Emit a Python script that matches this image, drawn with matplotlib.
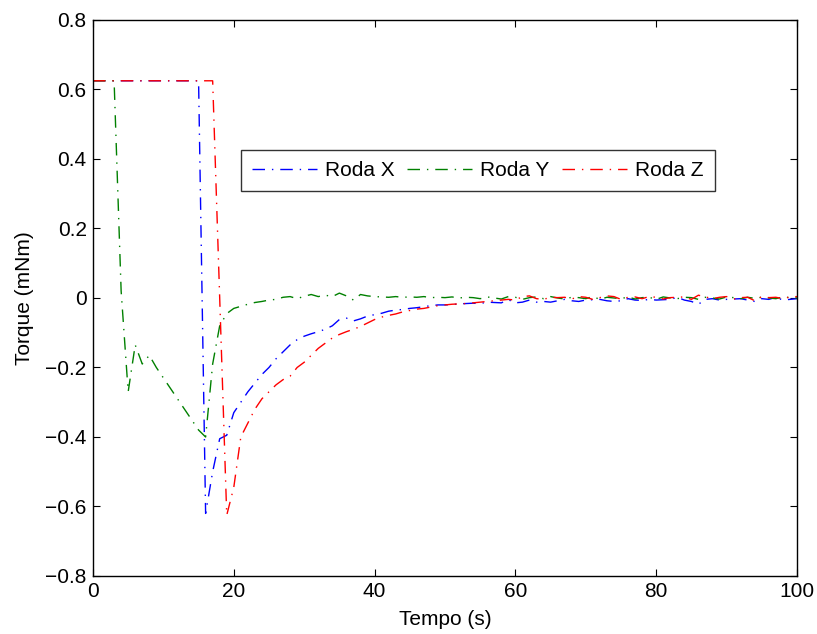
import matplotlib
matplotlib.use("Agg")
import matplotlib.pyplot as plt
import numpy as np

plt.rcParams['font.family'] = ['Liberation Sans', 'DejaVu Sans']

tempo = list(range(0, 101))

roda_x = [0.625] * 16 + [
    -0.62, -0.50, -0.405, -0.395, -0.33, -0.30, -0.27, -0.245, -0.22, -0.20,
    -0.175, -0.155, -0.135, -0.12, -0.11, -0.103, -0.097, -0.09, -0.08, -0.062,
    -0.058, -0.066, -0.06, -0.052, -0.048, -0.044, -0.038, -0.035, -0.033, -0.03,
    -0.028, -0.025, -0.022, -0.02, -0.02, -0.019, -0.017, -0.016, -0.015, -0.016,
    -0.012, -0.013, -0.014, -0.005, -0.014, -0.012, -0.006, -0.012, -0.01, -0.012,
    -0.008, -0.004, -0.008, -0.01, -0.006, -0.005, -0.004, -0.008, -0.01, -0.008,
    -0.002, -0.006, -0.007, -0.004, -0.006, -0.005, -0.004, 0.002, -0.006, -0.01,
    -0.018, -0.004, -0.002, -0.006, -0.004, -0.003, -0.002, -0.006, -0.01, -0.002,
    -0.004, 0.002, -0.006, -0.004, -0.002]

roda_y = [0.625] * 4 + [
    0.02, -0.27, -0.135, -0.19, -0.165, -0.20, -0.23, -0.26, -0.29, -0.32,
    -0.35, -0.38, -0.40, -0.19, -0.08, -0.045, -0.03, -0.024, -0.018, -0.013,
    -0.01, -0.006, -0.004, 0.002, 0.004, -0.002, 0.005, 0.01, 0.004, 0.008,
    0.004, 0.014, 0.006, -0.006, 0.01, 0.006, 0.004, 0.003, 0.002, 0.004,
    0.002, 0.003, 0.002, 0.004, 0.001, 0.002, 0.001, 0.003, 0.0, 0.002,
    0.001, -0.002, 0.003, 0.0, -0.003, 0.004, 0.002, -0.004, 0.001, 0.003,
    -0.002, 0.004, 0.0, -0.003, 0.002, 0.001, -0.002, 0.004, -0.004, 0.002,
    0.0, -0.002, 0.003, -0.003, 0.001, 0.002, -0.004, 0.003, 0.0, -0.002,
    0.002, 0.001, -0.004, 0.002, 0.0, -0.003, 0.003, 0.001, -0.002, 0.002,
    -0.001, 0.002, 0.0, -0.002, 0.003, 0.001, 0.0]

roda_z = [0.625] * 18 + [
    0.0, -0.625, -0.545, -0.40, -0.36, -0.32, -0.29, -0.27, -0.25, -0.235,
    -0.225, -0.20, -0.185, -0.165, -0.145, -0.13, -0.115, -0.105, -0.097, -0.09,
    -0.082, -0.072, -0.062, -0.055, -0.05, -0.046, -0.04, -0.036, -0.032, -0.03,
    -0.026, -0.022, -0.02, -0.018, -0.017, -0.016, -0.014, -0.012, -0.01, -0.008,
    -0.006, -0.004, -0.006, 0.004, 0.006, -0.002, -0.004, 0.002, 0.001, 0.002,
    -0.003, 0.004, 0.002, -0.004, 0.001, 0.006, 0.004, -0.004, 0.002, 0.003,
    -0.002, 0.004, 0.002, -0.003, 0.001, 0.002, 0.003, -0.004, 0.008, 0.003,
    -0.002, 0.002, 0.004, -0.003, 0.001, 0.002, -0.008, 0.004, 0.001, 0.002,
    -0.002, 0.003, 0.004]

FS = 15

fig = plt.figure(figsize=(8.17, 6.34), dpi=100)
ax = fig.add_axes([0.1138, 0.0915, 0.8617, 0.877])

dash = (9, 5, 1, 5)
ax.plot(tempo, roda_x, color=(0, 0, 1), lw=1.0, dashes=dash, label='Roda X')
ax.plot(tempo, roda_y, color=(0, 0.5, 0), lw=1.0, dashes=dash, label='Roda Y')
ax.plot(tempo, roda_z, color=(1, 0, 0), lw=1.0, dashes=dash, label='Roda Z')

ax.set_xlim(0, 100)
ax.set_ylim(-0.8, 0.8)
ax.set_xticks([0, 20, 40, 60, 80, 100])
ax.set_yticks([-0.8, -0.6, -0.4, -0.2, 0, 0.2, 0.4, 0.6, 0.8])
ax.set_yticklabels(['\u22120.8', '\u22120.6', '\u22120.4', '\u22120.2', '0', '0.2', '0.4', '0.6', '0.8'])
ax.tick_params(direction='in', length=5, width=0.8, labelsize=FS, top=True, right=True, pad=4.5)
for s in ax.spines.values():
    s.set_linewidth(1.0)

ax.set_xlabel('Tempo (s)', fontsize=FS, labelpad=6)
ax.set_ylabel('Torque (mNm)', fontsize=FS, labelpad=8.5)

leg = ax.legend(ncol=3, loc='upper left', bbox_to_anchor=(0.21, 0.767),
                fontsize=FS, frameon=True, fancybox=False, edgecolor='black',
                handlelength=3.1, columnspacing=0.6, handletextpad=0.4,
                borderpad=0.55, borderaxespad=0)
leg.get_frame().set_linewidth(1.0)

fig.savefig('out.png', dpi=100)
